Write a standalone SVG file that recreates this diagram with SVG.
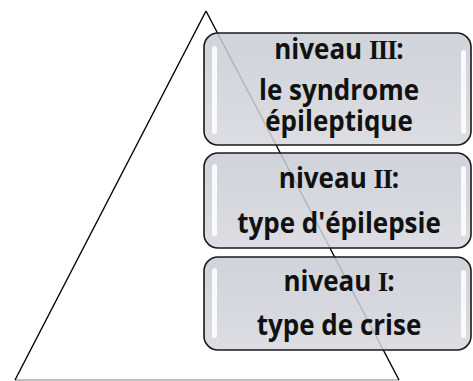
<svg xmlns="http://www.w3.org/2000/svg" width="473" height="381" viewBox="0 0 473 381">
  <style>
    .edge { stroke: #000; stroke-width: 1.4; fill: none; }
    .base { stroke: #aaa; stroke-width: 1.3; fill: none; }
    .box { fill: url(#boxFill); fill-opacity: 0.85; stroke: #1a1a1a; stroke-width: 1.6; }
    .shine { fill: #fff; opacity: 0.85; }
    .lbl { font-family: "Open Sans", "DejaVu Sans", sans-serif; font-weight: bold; font-size: 26px; fill: #111; text-anchor: middle; }
    .num { font-family: "Liberation Serif", "DejaVu Serif", serif; letter-spacing: -1px; }
  </style>
  <defs>
    <linearGradient id="boxFill" x1="0" y1="0" x2="0" y2="1">
      <stop offset="0" stop-color="#c9ccd4"/>
      <stop offset="0.5" stop-color="#ced1d8"/>
      <stop offset="1" stop-color="#d6d8de"/>
    </linearGradient>
  </defs>

  <!-- pyramid outline -->
  <g id="connectors">
    <line class="base" x1="15" y1="380" x2="399" y2="380"/>
    <line class="edge" x1="15" y1="380" x2="206" y2="11"/>
    <line class="edge" x1="206" y1="11" x2="399" y2="380"/>
  </g>

  <g id="level3">
    <rect class="box" x="204" y="33" width="267" height="112" rx="14"/>
    <rect class="shine" x="212" y="46" width="5" height="88" rx="2.5"/>
    <rect class="shine" x="461" y="50" width="5" height="84" rx="2.5"/>
    <text class="lbl" transform="translate(339,59) scale(1,1.08)">niveau <tspan class="num">III</tspan>:</text>
    <text class="lbl" transform="translate(339,100) scale(1,1.08)">le syndrome</text>
    <text class="lbl" transform="translate(339,131) scale(1,1.08)">épileptique</text>
  </g>

  <g id="level2">
    <rect class="box" x="204" y="153" width="267" height="95" rx="14"/>
    <rect class="shine" x="212" y="164" width="5" height="72" rx="2.5"/>
    <rect class="shine" x="461" y="166" width="5" height="70" rx="2.5"/>
    <text class="lbl" transform="translate(339,188) scale(1,1.08)">niveau <tspan class="num">II</tspan>:</text>
    <text class="lbl" transform="translate(339,233) scale(1,1.08)">type d'épilepsie</text>
  </g>

  <g id="level1">
    <rect class="box" x="204" y="257" width="267" height="93" rx="14"/>
    <rect class="shine" x="212" y="268" width="5" height="70" rx="2.5"/>
    <rect class="shine" x="461" y="270" width="5" height="68" rx="2.5"/>
    <text class="lbl" transform="translate(339,291) scale(1,1.08)">niveau <tspan class="num">I</tspan>:</text>
    <text class="lbl" transform="translate(339,335) scale(1,1.08)">type de crise</text>
  </g>
</svg>
